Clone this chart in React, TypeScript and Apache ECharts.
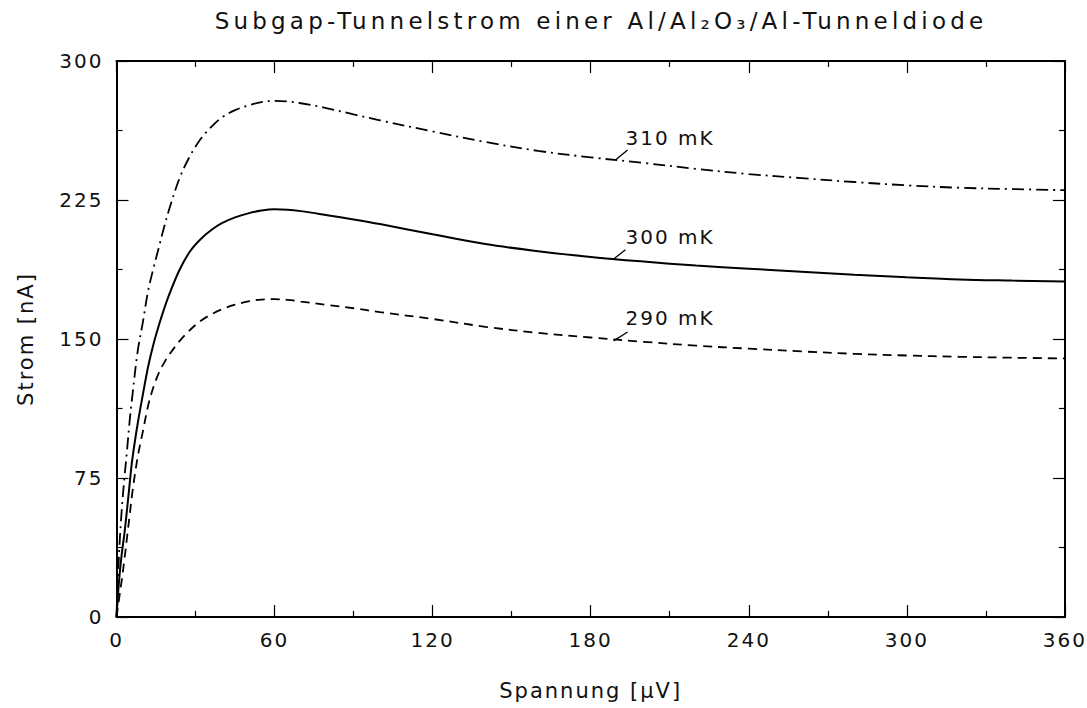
import React, { useEffect, useRef } from "react";
import * as echarts from "echarts";

const xValues = [0, 1, 2, 3, 4, 5, 6, 8, 10, 12, 14, 16, 18, 20, 24, 28, 32, 36, 40, 45, 50, 55, 60, 65, 70, 80, 90, 100, 120, 140, 160, 180, 200, 220, 240, 260, 280, 300, 320, 340, 360];

const t310 = [0, 35, 58, 75, 90, 106, 119, 143, 159, 176, 188, 199, 210, 220, 237, 249, 258, 264.5, 269.5, 273.5, 276, 277.8, 278.5, 278.2, 277.2, 274.5, 271.2, 268, 262, 256.3, 251.5, 248, 245, 241.8, 239, 236.8, 234.7, 232.9, 231.6, 230.9, 230.3];
const t300 = [0, 20, 34, 45, 58, 72, 85, 104, 120, 135, 147, 157, 166, 174, 187.5, 197.5, 204, 208.8, 212.5, 215.6, 217.8, 219.3, 220, 219.8, 219, 216.8, 214.5, 212, 206.5, 201.2, 197.4, 194.3, 191.8, 189.6, 187.9, 186.3, 184.7, 183.3, 182.1, 181.5, 181];
const t290 = [0, 10, 20, 31, 43, 55, 67, 86, 100, 114, 124, 131.5, 137, 141.5, 149, 155, 159.8, 163.3, 166, 168.5, 170.3, 171.3, 171.5, 171.1, 170.2, 168.4, 166.6, 164.5, 160.8, 156.6, 153.3, 150.8, 148.5, 146.4, 144.8, 143.3, 142, 141.1, 140.4, 139.9, 139.5];

const seriesNames = ["310 mK", "300 mK", "290 mK"];
const labelX = [193.2, 193.2, 193.2];
const labelY = [258.5, 205, 161.4];
const leaderFrom = [[189.4, 246.6], [188.7, 193.2], [188.7, 149]];
const leaderTo = [[194, 252], [193.2, 198.1], [194, 153.8]];

const xTicksMin = 0, xTicksMax = 360, xInterval = 60;
const yTicksMin = 0, yTicksMax = 300, yInterval = 75;

const titleText = "Subgap-Tunnelstrom einer Al/Al₂O₃/Al-Tunneldiode";
const xName = "Spannung [μV]";
const yName = "Strom [nA]";

const FONT = "DejaVu Sans";

export default function App() {
  const ref = useRef<HTMLDivElement>(null);
  useEffect(() => {
    if (!ref.current) return;
    const chart = echarts.init(ref.current, undefined, { renderer: "svg" });
    const curves = [t310, t300, t290];
    const lineTypes: any[] = [[12, 5, 2, 5], "solid", [9, 6]];
    const axisCommon = {
      axisLine: { show: true, onZero: false, lineStyle: { color: "#000", width: 2 } },
      axisTick: { show: true, inside: true, length: 12, lineStyle: { color: "#000", width: 1.2 } },
      minorTick: { show: true, splitNumber: 2, length: 6, lineStyle: { color: "#000", width: 1.2 } },
      splitLine: { show: false },
    };
    const option: any = {
      animation: false,
      backgroundColor: "#fff",
      title: {
        text: titleText,
        left: 596,
        textAlign: "center",
        top: 4,
        textStyle: {
          fontFamily: FONT,
          fontSize: 23,
          fontWeight: "normal",
          color: "#111",
        },
      },
      grid: { left: 116.5, right: 13.5, top: 61, bottom: 91, containLabel: false },
      xAxis: [
        {
          type: "value",
          min: xTicksMin,
          max: xTicksMax,
          interval: xInterval,
          name: xName,
          nameLocation: "middle",
          nameGap: 63,
          nameTextStyle: { fontFamily: FONT, fontSize: 21, color: "#111" },
          axisLabel: { fontFamily: FONT, fontSize: 20, color: "#111", margin: 13 },
          ...axisCommon,
        },
        {
          type: "value",
          position: "top",
          min: xTicksMin,
          max: xTicksMax,
          interval: xInterval,
          axisLabel: { show: false },
          ...axisCommon,
        },
      ],
      yAxis: [
        {
          type: "value",
          min: yTicksMin,
          max: yTicksMax,
          interval: yInterval,
          name: yName,
          nameLocation: "middle",
          nameGap: 80,
          nameRotate: 90,
          nameTextStyle: { fontFamily: FONT, fontSize: 21, color: "#111" },
          axisLabel: { fontFamily: FONT, fontSize: 20, color: "#111", margin: 13 },
          ...axisCommon,
        },
        {
          type: "value",
          position: "right",
          min: yTicksMin,
          max: yTicksMax,
          interval: yInterval,
          axisLabel: { show: false },
          ...axisCommon,
        },
      ],
      series: curves.map((vals, i) => ({
        type: "line",
        name: seriesNames[i],
        xAxisIndex: 0,
        yAxisIndex: 0,
        data: xValues.map((x, j) => [x, vals[j]]),
        showSymbol: false,
        smooth: 0.35,
        lineStyle: { color: "#000", width: i === 1 ? 2 : 1.8, type: lineTypes[i] },
        markLine: {
          silent: true,
          symbol: ["none", "none"],
          label: { show: false },
          lineStyle: { color: "#000", width: 1.3, type: "solid" },
          data: [[{ coord: leaderFrom[i] }, { coord: leaderTo[i] }]],
        },
        markPoint: {
          silent: true,
          symbol: "circle",
          symbolSize: 0,
          label: {
            show: true,
            position: "inside",
            align: "left",
            verticalAlign: "middle",
            formatter: seriesNames[i],
            fontFamily: FONT,
            fontSize: 20,
            color: "#111",
          },
          data: [{ coord: [labelX[i], labelY[i]] }],
        },
      })),
    };
    chart.setOption(option);
    const texts = ref.current.querySelectorAll("text");
    texts.forEach((t) => {
      if (t.textContent === titleText) {
        (t as any).style.letterSpacing = "4.2px";
      }
    });
    return () => chart.dispose();
  }, []);
  return (
    <div
      ref={ref}
      style={{ position: "fixed", left: 0, top: 0, width: 1087, height: 708, letterSpacing: "2px" }}
    />
  );
}
